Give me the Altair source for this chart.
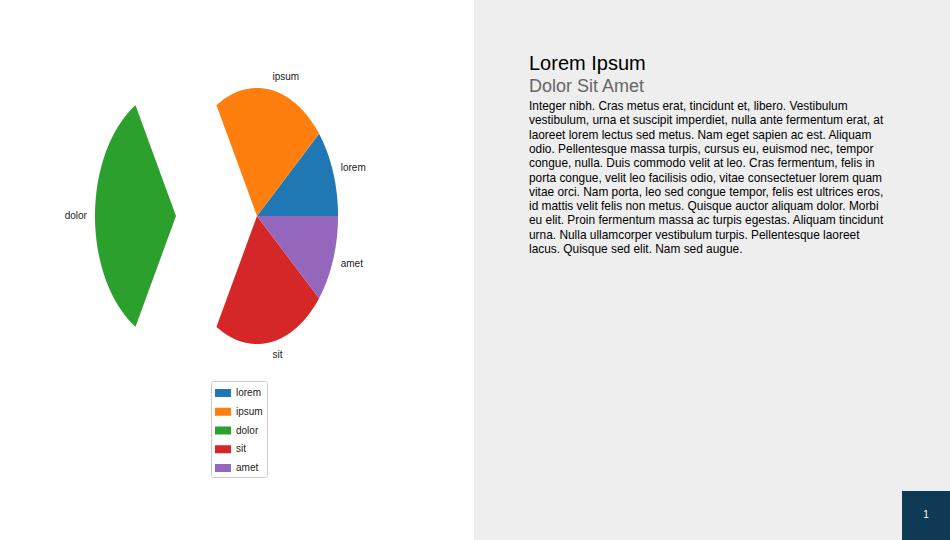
import altair as alt
import numpy as np
import pandas as pd

# ---- data ----
categories = ["lorem", "ipsum", "dolor", "sit", "amet"]
values = [1, 2, 3, 2, 1]
explode = [0.0, 0.0, 1.0, 0.0, 0.0]
colors = ["#1f77b4", "#ff7f0e", "#2ca02c", "#d62728", "#9467bd"]

title = "Lorem Ipsum"
subtitle = "Dolor Sit Amet"
body_lines = [
    "Integer nibh. Cras metus erat, tincidunt et, libero. Vestibulum",
    "vestibulum, urna et suscipit imperdiet, nulla ante fermentum erat, at",
    "laoreet lorem lectus sed metus. Nam eget sapien ac est. Aliquam",
    "odio. Pellentesque massa turpis, cursus eu, euismod nec, tempor",
    "congue, nulla. Duis commodo velit at leo. Cras fermentum, felis in",
    "porta congue, velit leo facilisis odio, vitae consectetuer lorem quam",
    "vitae orci. Nam porta, leo sed congue tempor, felis est ultrices eros,",
    "id mattis velit felis non metus. Quisque auctor aliquam dolor. Morbi",
    "eu elit. Proin fermentum massa ac turpis egestas. Aliquam tincidunt",
    "urna. Nulla ullamcorper vestibulum turpis. Pellentesque laoreet",
    "lacus. Quisque sed elit. Nam sed augue.",
]
page_number = "1"

# ---- layout constants ----
W, H = 950, 540
CX, CY = 257, 216      # pie centre (px)
RX, RY = 81, 128       # pie radii (px) - squashed horizontally
LABEL_DIST = 1.1
LABEL_FONT = "Liberation Sans"
LABEL_SIZE = 10

# ---- build wedge outlines from the values ----
total = float(sum(values))
poly_rows, label_rows = [], []
start = 0.0
for cat, v, ex in zip(categories, values, explode):
    span = 360.0 * v / total
    end = start + span
    mid = np.deg2rad(start + span / 2)
    ox, oy = ex * np.cos(mid), ex * np.sin(mid)
    poly_rows.append(dict(cat=cat, order=0, x=ox, y=oy))
    n = max(int(span), 2)
    for k, t in enumerate(np.linspace(start, end, n + 1)):
        tr = np.deg2rad(t)
        poly_rows.append(dict(cat=cat, order=k + 1, x=ox + np.cos(tr), y=oy + np.sin(tr)))
    lx = ox + LABEL_DIST * np.cos(mid)
    ly = oy + LABEL_DIST * np.sin(mid)
    label_rows.append(dict(cat=cat, x=lx, y=ly, side="left" if lx > 0 else "right"))
    start = end

poly = pd.DataFrame(poly_rows)
labels = pd.DataFrame(label_rows)

xs = alt.Scale(domain=[-CX / RX, (W - CX) / RX], nice=False, zero=False)
ys = alt.Scale(domain=[-(H - CY) / RY, CY / RY], nice=False, zero=False)

color = alt.Color(
    "cat:N",
    scale=alt.Scale(domain=categories, range=colors),
    legend=alt.Legend(
        title=None,
        orient="none",
        legendX=211,
        legendY=381,
        strokeColor="#cccccc",
        fillColor="white",
        cornerRadius=2,
        padding=4,
        symbolType="M-1,-0.5H1V0.5H-1Z",
        symbolSize=256,
        symbolStrokeWidth=0,
        labelFont=LABEL_FONT,
        labelFontSize=LABEL_SIZE,
        labelColor="#222222",
        labelOffset=5,
        rowPadding=5.75,
    ),
)

one = pd.DataFrame({"a": [0]})

panel = alt.Chart(one).mark_rect(color="#eeeeee").encode(
    x=alt.value(474), x2=alt.value(W), y=alt.value(0), y2=alt.value(H)
)
numbox = alt.Chart(one).mark_rect(color="#0e3a55").encode(
    x=alt.value(902), x2=alt.value(W), y=alt.value(491), y2=alt.value(H)
)
numtext = alt.Chart(pd.DataFrame({"t": [page_number]})).mark_text(
    align="center", baseline="middle", font="Liberation Sans", fontSize=10, color="white"
).encode(x=alt.value(926), y=alt.value(515), text="t:N")

wedges = alt.Chart(poly).mark_line(filled=True, strokeWidth=0).encode(
    x=alt.X("x:Q", scale=xs, axis=None),
    y=alt.Y("y:Q", scale=ys, axis=None),
    color=color,
    order="order:Q",
    detail="cat:N",
)

lab_left = alt.Chart(labels).transform_filter("datum.side == 'left'").mark_text(
    align="left", baseline="middle", font=LABEL_FONT, fontSize=LABEL_SIZE, color="#222222"
).encode(x=alt.X("x:Q", scale=xs), y=alt.Y("y:Q", scale=ys), text="cat:N")
lab_right = alt.Chart(labels).transform_filter("datum.side == 'right'").mark_text(
    align="right", baseline="middle", font=LABEL_FONT, fontSize=LABEL_SIZE, color="#222222"
).encode(x=alt.X("x:Q", scale=xs), y=alt.Y("y:Q", scale=ys), text="cat:N")

title_t = alt.Chart(pd.DataFrame({"t": [title]})).mark_text(
    align="left", baseline="alphabetic", font="Liberation Sans", fontSize=20, color="#000000"
).encode(x=alt.value(529), y=alt.value(70), text="t:N")
sub_t = alt.Chart(pd.DataFrame({"t": [subtitle]})).mark_text(
    align="left", baseline="alphabetic", font="Liberation Sans", fontSize=18, color="#666666"
).encode(x=alt.value(529), y=alt.value(92), text="t:N")
body_t = alt.Chart(one).mark_text(
    align="left", baseline="alphabetic", font="Liberation Sans", fontSize=11.9,
    color="#000000", lineHeight=14.3, text=body_lines
).encode(x=alt.value(529), y=alt.value(110))

chart = alt.layer(
    panel, numbox, numtext, wedges, lab_left, lab_right, title_t, sub_t, body_t
).properties(
    width=W, height=H, padding=0, background="white",
    autosize=alt.AutoSizeParams(type="none"),
).configure_view(stroke=None)

chart.save("out.html", embed_options={"renderer": "svg", "actions": False})
